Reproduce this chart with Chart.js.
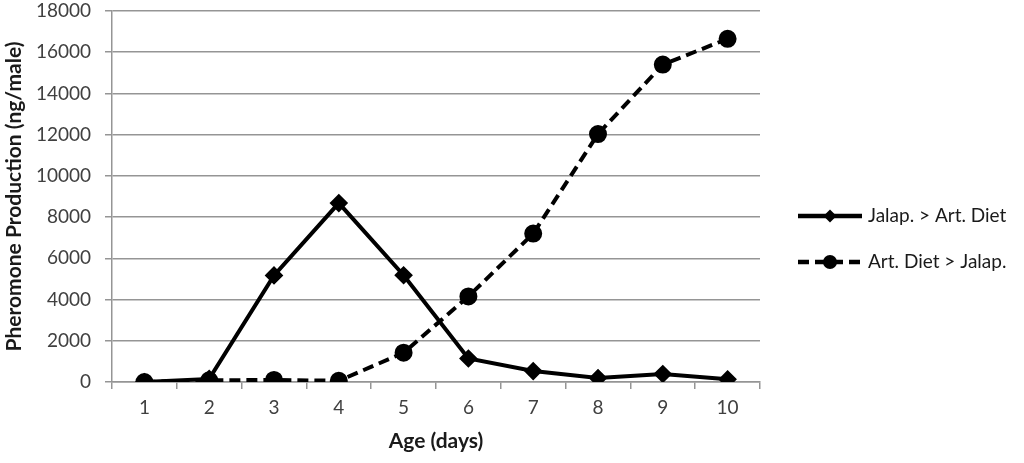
<!DOCTYPE html>
<html>
<head>
<meta charset="utf-8">
<script src="https://cdn.jsdelivr.net/npm/chart.js@4.4.4/dist/chart.umd.min.js"></script>
<style>
  html, body { margin: 0; padding: 0; background: #fff; }
  #wrap { width: 1024px; height: 463px; }
</style>
</head>
<body>
<div id="wrap"><canvas id="chart"></canvas></div>
<script>
const ages = ['1', '2', '3', '4', '5', '6', '7', '8', '9', '10'];
const jalapToArt = [0, 150, 5170, 8680, 5180, 1140, 530, 190, 390, 130];
const artToJalap = [0, 80, 100, 60, 1420, 4150, 7200, 12030, 15400, 16650];
const seriesNames = ['Jalap. > Art. Diet', 'Art. Diet > Jalap.'];

const FONT = 'Lato, "Open Sans", sans-serif';
const GRID = '#959595';

// legend drawn by hand so the line + marker sample looks like the original
const sideLegend = {
  id: 'sideLegend',
  afterDraw(chart) {
    const ctx = chart.ctx;
    const x0 = 798, len = 64;
    const rows = [216, 262];
    chart.data.datasets.forEach((ds, i) => {
      const y = rows[i];
      ctx.save();
      ctx.strokeStyle = ds.borderColor;
      ctx.lineWidth = ds.borderWidth + 0.5;
      ctx.setLineDash(ds.borderDash || []);
      ctx.beginPath();
      ctx.moveTo(x0, y);
      ctx.lineTo(x0 + len, y);
      ctx.stroke();
      ctx.setLineDash([]);
      ctx.fillStyle = ds.pointBackgroundColor;
      ctx.beginPath();
      if (ds.pointStyle === 'rectRot') {
        const r = 6.5;
        ctx.moveTo(x0 + len / 2, y - r);
        ctx.lineTo(x0 + len / 2 + r, y);
        ctx.lineTo(x0 + len / 2, y + r);
        ctx.lineTo(x0 + len / 2 - r, y);
        ctx.closePath();
      } else {
        ctx.arc(x0 + len / 2, y, 7, 0, Math.PI * 2);
      }
      ctx.fill();
      ctx.fillStyle = '#1a1a1a';
      ctx.font = '19px ' + FONT;
      ctx.textBaseline = 'middle';
      ctx.fillText(ds.label, x0 + len + 6, y);
      ctx.restore();
    });
  }
};

new Chart(document.getElementById('chart'), {
  type: 'line',
  data: {
    labels: ages,
    datasets: [{
      label: seriesNames[0],
      data: jalapToArt,
      borderColor: '#000',
      backgroundColor: '#000',
      pointBackgroundColor: '#000',
      pointBorderColor: '#000',
      borderWidth: 4,
      pointStyle: 'rectRot',
      pointRadius: 6.5,
      tension: 0
    }, {
      label: seriesNames[1],
      data: artToJalap,
      borderColor: '#000',
      backgroundColor: '#000',
      pointBackgroundColor: '#000',
      pointBorderColor: '#000',
      borderWidth: 4,
      borderDash: [11, 6],
      pointStyle: 'circle',
      pointRadius: 7,
      tension: 0
    }]
  },
  options: {
    responsive: true,
    maintainAspectRatio: false,
    animation: false,
    layout: { padding: { top: 10, right: 264, left: 0, bottom: 0 } },
    plugins: {
      legend: { display: false },
      tooltip: { enabled: false }
    },
    scales: {
      x: {
        offset: true,
        afterFit: (scale) => { scale.height = 81; },
        grid: {
          offset: true,
          drawOnChartArea: false,
          drawTicks: true,
          tickLength: 7,
          color: GRID,
          lineWidth: 1.5
        },
        border: { color: GRID, width: 1.5 },
        ticks: { color: '#404040', font: { family: FONT, size: 19 }, padding: 7 },
        title: {
          display: true,
          text: 'Age (days)',
          color: '#1a1a1a',
          font: { family: FONT, size: 21, weight: 'bold' },
          padding: { top: 4, bottom: 9 }
        }
      },
      y: {
        min: 0,
        max: 18000,
        afterFit: (scale) => {
          scale.width = 112;
          scale.paddingTop = 0;
          scale.paddingBottom = 0;
        },
        ticks: {
          stepSize: 2000,
          color: '#404040',
          font: { family: FONT, size: 19 },
          padding: 14,
          callback: (v) => String(v)
        },
        grid: { color: GRID, lineWidth: 1.5, tickLength: 7 },
        border: { color: GRID, width: 1.5 },
        title: {
          display: true,
          text: 'Pheromone Production (ng/male)',
          color: '#1a1a1a',
          font: { family: FONT, size: 21, weight: 'bold' },
          padding: { top: 2, bottom: 4 }
        }
      }
    }
  },
  plugins: [sideLegend]
});
</script>
</body>
</html>
